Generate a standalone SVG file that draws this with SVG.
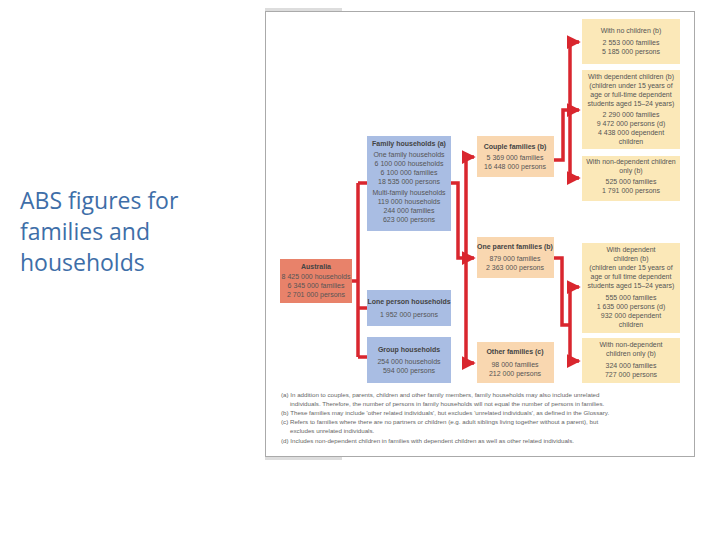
<svg xmlns="http://www.w3.org/2000/svg" width="720" height="540" viewBox="0 0 720 540">
<defs>
<marker id="ah" markerWidth="4" markerHeight="4" refX="3.5" refY="2" orient="auto" markerUnits="strokeWidth"><path d="M0,0 L4,2 L0,4 z" fill="#d9262e"/></marker>
<style>
.t{font-family:"Liberation Sans",Arial,sans-serif;font-size:7px;fill:#555;text-anchor:middle}
.b{font-weight:bold;fill:#444}
.au{fill:#e8826a}.bl{fill:#a9bde3}.pe{fill:#f9d7b0}.ye{fill:#fbe8b8}
.c{fill:none;stroke:#d9262e;stroke-width:3.5}
.n{font-family:"Liberation Sans",Arial,sans-serif;font-size:6.2px;fill:#666}
</style>
</defs>
<rect width="720" height="540" fill="#fff"/>
<text font-family="Open Sans,'Liberation Sans',sans-serif" font-size="23" fill="#3e6ea8"><tspan x="20" y="209">ABS figures for</tspan><tspan x="20" y="240">families and</tspan><tspan x="20" y="271">households</tspan></text>
<rect x="265.5" y="11.5" width="429" height="445" fill="none" stroke="#aaa"/>
<rect x="265" y="8" width="77" height="3" fill="#ddd"/>
<rect x="265" y="457" width="77" height="3" fill="#ddd"/>
<g id="connectors">
<path class="c" d="M352,281 H358 M358,183 V357 M358,183 H367 M358,308 H367 M358,357 H367"/>
<path class="c" d="M451,183 H458 V258 H474" marker-end="url(#ah)"/>
<path class="c" d="M466,157 H474" marker-end="url(#ah)"/>
<path class="c" d="M466,157 V363 H474" marker-end="url(#ah)"/>
<path class="c" d="M554,160 H563 V110 H579" marker-end="url(#ah)"/>
<path class="c" d="M570,42 H579" marker-end="url(#ah)"/>
<path class="c" d="M570,42 V178 H579" marker-end="url(#ah)"/>
<path class="c" d="M554,258 H562 V325 H570"/>
<path class="c" d="M570,287 H579" marker-end="url(#ah)"/>
<path class="c" d="M570,287 V361 H579" marker-end="url(#ah)"/>
</g>
<g id="australia"><rect class="au" x="280" y="259" width="72" height="44"/>
<text class="t b" x="316" y="269">Australia</text><text class="t" x="316" y="279">8 425 000 households</text><text class="t" x="316" y="288">6 345 000 families</text><text class="t" x="316" y="297">2 701 000 persons</text></g>
<g id="family"><rect class="bl" x="367" y="136" width="84" height="95"/>
<text class="t b" x="409" y="146">Family households (a)</text><text class="t" x="409" y="157">One family households</text><text class="t" x="409" y="166">6 100 000 households</text><text class="t" x="409" y="175">6 100 000 families</text><text class="t" x="409" y="184">18 535 000 persons</text><text class="t" x="409" y="195">Multi-family households</text><text class="t" x="409" y="204">119 000 households</text><text class="t" x="409" y="213">244 000 families</text><text class="t" x="409" y="222">623 000 persons</text></g>
<g id="lone"><rect class="bl" x="367" y="290" width="84" height="36"/>
<text class="t b" x="409" y="304">Lone person households</text><text class="t" x="409" y="317">1 952 000 persons</text></g>
<g id="group"><rect class="bl" x="367" y="337" width="84" height="46"/>
<text class="t b" x="409" y="352">Group households</text><text class="t" x="409" y="364">254 000 households</text><text class="t" x="409" y="373">594 000 persons</text></g>
<g id="couple"><rect class="pe" x="477" y="136" width="77" height="41"/>
<text class="t b" x="515" y="149">Couple families (b)</text><text class="t" x="515" y="160">5 369 000 families</text><text class="t" x="515" y="169">16 448 000 persons</text></g>
<g id="oneparent"><rect class="pe" x="477" y="237" width="77" height="41"/>
<text class="t b" x="515" y="249">One parent families (b)</text><text class="t" x="515" y="261">879 000 families</text><text class="t" x="515" y="270">2 363 000 persons</text></g>
<g id="other"><rect class="pe" x="477" y="342" width="77" height="41"/>
<text class="t b" x="515" y="354">Other families (c)</text><text class="t" x="515" y="367">98 000 families</text><text class="t" x="515" y="376">212 000 persons</text></g>
<g id="nochildren"><rect class="ye" x="582" y="19" width="98" height="45"/>
<text class="t" x="631" y="33">With no children (b)</text><text class="t" x="631" y="45">2 553 000 families</text><text class="t" x="631" y="54">5 185 000 persons</text></g>
<g id="dep1"><rect class="ye" x="582" y="70" width="98" height="79"/>
<text class="t" x="631" y="79">With dependent children (b)</text><text class="t" x="631" y="88">(children under 15 years of</text><text class="t" x="631" y="97">age or full-time dependent</text><text class="t" x="631" y="106">students aged 15–24 years)</text><text class="t" x="631" y="117">2 290 000 families</text><text class="t" x="631" y="126">9 472 000 persons (d)</text><text class="t" x="631" y="135">4 438 000 dependent</text><text class="t" x="631" y="144">children</text></g>
<g id="nondep1"><rect class="ye" x="582" y="156" width="98" height="45"/>
<text class="t" x="631" y="164">With non-dependent children</text><text class="t" x="631" y="173">only (b)</text><text class="t" x="631" y="184">525 000 families</text><text class="t" x="631" y="193">1 791 000 persons</text></g>
<g id="dep2"><rect class="ye" x="582" y="243" width="98" height="90"/>
<text class="t" x="631" y="252">With dependent</text><text class="t" x="631" y="261">children (b)</text><text class="t" x="631" y="270">(children under 15 years of</text><text class="t" x="631" y="279">age or full time dependent</text><text class="t" x="631" y="288">students aged 15–24 years)</text><text class="t" x="631" y="300">555 000 families</text><text class="t" x="631" y="309">1 635 000 persons (d)</text><text class="t" x="631" y="318">932 000 dependent</text><text class="t" x="631" y="327">children</text></g>
<g id="nondep2"><rect class="ye" x="582" y="338" width="98" height="45"/>
<text class="t" x="631" y="347">With non-dependent</text><text class="t" x="631" y="356">children only (b)</text><text class="t" x="631" y="368">324 000 families</text><text class="t" x="631" y="377">727 000 persons</text></g>
<g id="notes">
<text class="n" x="281" y="397">(a) In addition to couples, parents, children and other family members, family households may also include unrelated</text>
<text class="n" x="290" y="406">individuals. Therefore, the number of persons in family households will not equal the number of persons in families.</text>
<text class="n" x="281" y="415">(b) These families may include 'other related individuals', but excludes 'unrelated individuals', as defined in the Glossary.</text>
<text class="n" x="281" y="424">(c) Refers to families where there are no partners or children (e.g. adult siblings living together without a parent), but</text>
<text class="n" x="290" y="433">excludes unrelated individuals.</text>
<text class="n" x="281" y="443">(d) Includes non-dependent children in families with dependent children as well as other related individuals.</text>
</g>
</svg>
